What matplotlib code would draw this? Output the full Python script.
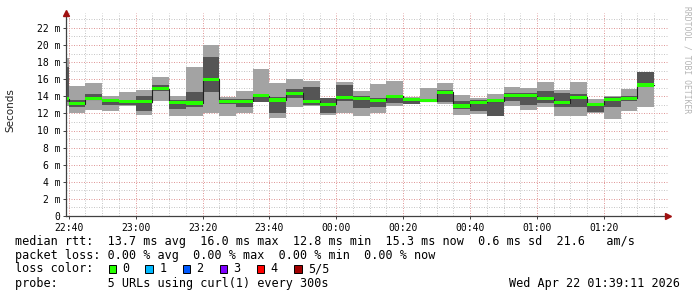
import matplotlib
matplotlib.use("Agg")
import matplotlib.pyplot as plt
from matplotlib.patches import Rectangle
import numpy as np

# 5-minute steps, minutes relative to 22:40 (first step is the partial 22:35 one)
step_start = [-5] + [5 * k for k in range(35)]

# smoke values per step in ms: min, 2nd, median, 4th, max of the 5 probes
rtt_min = [12.9, 12.0, 12.45, 12.3, 12.9, 11.87, 13.48, 11.64, 11.64, 11.99,
           11.7, 12.1, 13.28, 11.48, 12.7, 12.9, 11.87, 12.1, 11.64, 11.99,
           12.87, 13.05, 13.28, 13.1, 11.8, 11.9, 11.72, 12.89, 12.42, 12.77,
           11.64, 11.64, 12.1, 11.4, 12.23, 12.7]
rtt_lo = [13.3, 12.7, 13.55, 12.97, 12.95, 12.3, 14.65, 12.46, 12.77, 14.45,
          13.1, 12.7, 13.36, 11.99, 13.79, 13.0, 12.1, 13.48, 12.62, 12.77,
          13.18, 13.1, 13.32, 13.3, 12.5, 12.3, 11.75, 13.4, 13.0, 13.16,
          12.77, 12.77, 12.15, 12.7, 13.48, 15.27]
rtt_med = [13.7, 13.15, 13.67, 13.48, 13.4, 13.36, 14.88, 13.28, 13.2, 15.98,
           13.4, 13.4, 14.02, 13.55, 14.34, 13.4, 13.05, 13.79, 13.67, 13.52,
           14.0, 13.57, 13.5, 14.45, 12.85, 13.28, 13.44, 14.06, 14.06, 13.67,
           13.24, 13.87, 13.05, 13.63, 13.75, 15.3]
rtt_hi = [17.4, 13.6, 14.25, 13.55, 13.45, 14.06, 15.35, 13.55, 14.45, 18.6,
          13.7, 13.67, 14.26, 13.87, 14.84, 15.04, 13.75, 15.35, 14.06, 13.79,
          14.15, 13.76, 13.6, 14.7, 13.5, 13.55, 13.63, 14.41, 14.37, 14.57,
          14.41, 14.3, 13.16, 13.87, 14.02, 16.8]
rtt_max = [18.5, 15.2, 15.5, 14.06, 14.45, 14.77, 16.3, 14.06, 17.4, 20.04,
           13.95, 14.57, 17.2, 15.59, 16.05, 15.82, 13.8, 15.7, 14.65, 15.47,
           15.82, 13.95, 15.0, 15.5, 14.2, 13.79, 14.3, 15.12, 15.0, 15.7,
           14.77, 15.7, 13.71, 14.02, 14.88, 16.87]

y_ticks = list(range(0, 23, 2))
x_tick_pos = [0, 20, 40, 60, 80, 100, 120, 140, 160]
x_tick_labels = ["22:40", "23:00", "23:20", "23:40", "00:00", "00:20",
                 "00:40", "01:00", "01:20"]

loss_labels = ["0", "1", "2", "3", "4", "5/5"]
loss_colors = ["#26ff00", "#00b8ff", "#0059ff", "#7e00ff", "#ff0000", "#a10000"]

legend_lines = [
    "median rtt:  13.7 ms avg  16.0 ms max  12.8 ms min  15.3 ms now  0.6 ms sd  21.6   am/s",
    "packet loss: 0.00 % avg  0.00 % max  0.00 % min  0.00 % now",
    "loss color:",
    "probe:       5 URLs using curl(1) every 300s",
]

W, H = 697, 297
fig = plt.figure(figsize=(W / 100, H / 100), dpi=100)
fig.patch.set_facecolor("white")

# plot box in pixels
left, right, top, bottom = 66, 668, 13, 216
px_per_ms = 8.55
ax = fig.add_axes([left / W, 1 - bottom / H, (right - left) / W, (bottom - top) / H])
ax.set_xlim(-0.817, 179.183)
ax.set_ylim(0, (bottom - top) / px_per_ms)

mono = "DejaVu Sans Mono"

# grid
minor_grid = dict(color="#c8c8c8", lw=0.72, ls=(0, (1, 1.5)), zorder=0)
major_grid = dict(color="#e09a9a", lw=0.72, ls=(0, (1, 1.5)), zorder=0)
for t in np.arange(0, 180, 5):
    ax.axvline(t, **(major_grid if t % 20 == 0 else minor_grid))
for v in range(1, 24):
    ax.axhline(v, **(major_grid if v % 2 == 0 else minor_grid))

x0 = np.array(step_start, dtype=float)
mn = np.array(rtt_min)
lo = np.array(rtt_lo)
md = np.array(rtt_med)
hi = np.array(rtt_hi)
mx = np.array(rtt_max)

# smoke
ax.bar(x0, mx - mn, bottom=mn, width=5, align="edge", color="#a3a3a3", lw=0, zorder=2)
ax.bar(x0, hi - lo, bottom=lo, width=5, align="edge", color="#555555", lw=0, zorder=3)

# median: dark step line plus loss-coloured band
ax.step(np.append(x0, x0[-1] + 5), np.append(md, md[-1]), where="post",
        color="#202020", lw=0.8, zorder=4)
ax.bar(x0, 0.36, bottom=md - 0.16, width=5, align="edge", color=loss_colors[0],
       lw=0, zorder=5)

# axes
for s in ["top", "right"]:
    ax.spines[s].set_visible(False)
for s in ["left", "bottom"]:
    ax.spines[s].set_color("#404040")
    ax.spines[s].set_linewidth(0.9)
    ax.spines[s].set_zorder(6)
ax.plot([0], [1.0], marker="^", ms=5, color="#a01010", transform=ax.transAxes,
        clip_on=False, zorder=7)
ax.plot([1.0], [0], marker=">", ms=5, color="#a01010", transform=ax.transAxes,
        clip_on=False, zorder=7)

ax.set_yticks(y_ticks)
ax.set_yticklabels(["0"] + [f"{v} m" for v in y_ticks[1:]], family=mono, fontsize=7)
ax.set_xticks(x_tick_pos)
ax.set_xticklabels(x_tick_labels, family=mono, fontsize=7)
ax.tick_params(axis="both", length=2, width=0.7, color="#404040", pad=2)
ax.tick_params(axis="x", pad=3)
ax.set_facecolor("white")

fig.text(10 / W, 1 - 110 / H, "Seconds", rotation=90, ha="center", va="center",
         fontsize=7.5, color="#222222")
fig.text(687 / W, 1 - 60 / H, "RRDTOOL / TOBI OETIKER", rotation=270, ha="center",
         va="center", family=mono, fontsize=5.8, color="#b4b4b4")

# legend block
line_y = [241, 255, 268.5, 283]
for txt, yy in zip(legend_lines, line_y):
    fig.text(15 / W, 1 - yy / H, txt, family=mono, fontsize=8.5, va="center",
             ha="left", color="black")

sq_x = [108.5, 145.3, 182.5, 219.5, 256.8, 294.2]
for sx, lab, col in zip(sq_x, loss_labels, loss_colors):
    fig.patches.append(Rectangle((sx / W, 1 - 272.5 / H), 7.5 / W, 7.5 / H,
                                 transform=fig.transFigure, facecolor=col,
                                 edgecolor="black", lw=0.7))
    fig.text((sx + 14) / W, 1 - 268.5 / H, lab, family=mono, fontsize=8.5,
             va="center", ha="left", color="black")

fig.text(680 / W, 1 - 283 / H, "Wed Apr 22 01:39:11 2026", family=mono,
         fontsize=8.5, va="center", ha="right", color="black")

fig.savefig("out.png", dpi=100, facecolor="white")
